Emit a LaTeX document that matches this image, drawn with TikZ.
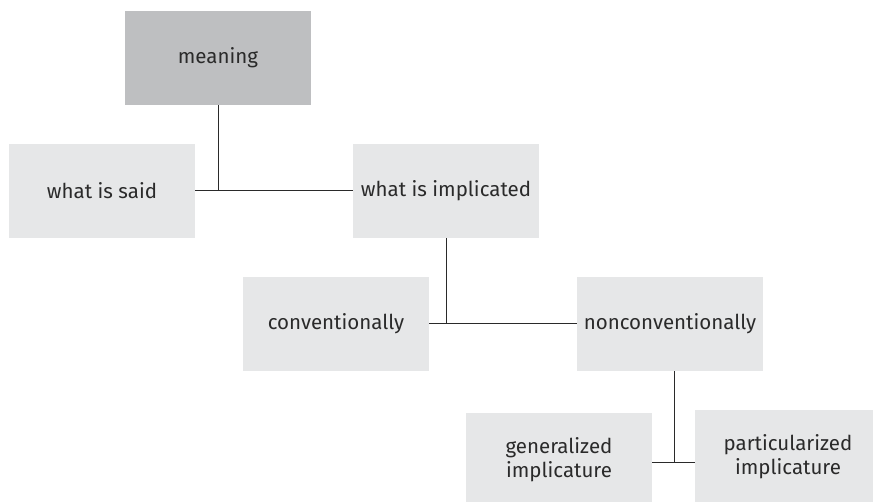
\documentclass[tikz,border=0pt]{standalone}
\usepackage{fontspec}
\setmainfont{Fira Sans}
\definecolor{BoxGray}{HTML}{E6E7E8}
\definecolor{TopGray}{HTML}{BEBFC1}
\definecolor{InkGray}{HTML}{2A2A2A}

\begin{document}
\begin{tikzpicture}[x=1pt, y=-1pt,
    box/.style={fill=BoxGray, rectangle, minimum width=186pt, minimum height=94pt, inner sep=0pt, align=center, text=InkGray, font=\fontsize{20.5}{24}\selectfont},
    link/.style={draw=InkGray, line width=1pt}]
    \useasboundingbox (0,0) rectangle (873,502);
    \clip (0,0) rectangle (873,502);

    \node [box, fill=TopGray] (meaning) at (218,58) {meaning};
    \node [box] (said) at (102,191) {what is said};
    \node [box] (implicated) at (446,191) {what is implicated};
    \node [box] (conv) at (336,324) {conventionally};
    \node [box] (nonconv) at (670,324) {nonconventionally};
    \node [box] (gen) at (559,460) {generalized\\implicature};
    \node [box] (part) at (788,457) {particularized\\implicature};

    \draw [link] (said.east) -- (implicated.west);
    \draw [link] (meaning.south) -- (meaning.south |- said.east);
    \draw [link] (conv.east) -- (nonconv.west);
    \draw [link] (implicated.south) -- (implicated.south |- conv.east);
    \draw [link] ([yshift=-2pt]gen.east) -- ([yshift=-2pt]gen.east -| part.west);
    \draw [link] ([xshift=4pt]nonconv.south) -- ([xshift=4pt,yshift=-2pt]nonconv.south |- gen.east);
\end{tikzpicture}
\end{document}
